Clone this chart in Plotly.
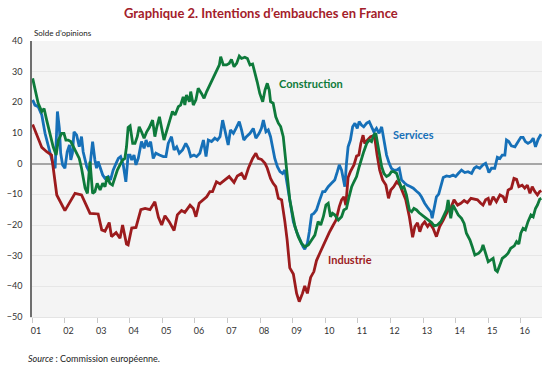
import plotly.graph_objects as go

# (decimal year, balance of opinions)
services = [
    (2001.02, 20.8), (2001.09, 19.1), (2001.19, 18.6), (2001.30, 15.9), (2001.40, 9.9),
    (2001.50, 5.5), (2001.57, 2.3), (2001.65, -0.4), (2001.71, -1.5), (2001.78, 17.0),
    (2001.84, 11.5), (2001.88, 3.4), (2001.94, -0.4), (2002.01, -1.5), (2002.08, 3.9),
    (2002.15, 6.1), (2002.19, 1.2), (2002.24, 3.4), (2002.29, 10.4), (2002.37, 9.3),
    (2002.45, 5.5), (2002.52, 8.8), (2002.57, 3.9), (2002.68, -1.0), (2002.76, -2.6),
    (2002.86, 7.2), (2002.93, 1.2), (2002.98, -1.5), (2003.03, 0.7), (2003.09, -1.0),
    (2003.17, -3.7), (2003.24, -4.8), (2003.34, -4.2), (2003.41, -5.3), (2003.49, -2.1),
    (2003.58, 0.1), (2003.65, 1.7), (2003.72, 2.3), (2003.80, -0.4), (2003.88, -5.9),
    (2003.95, 2.8), (2004.01, 2.8), (2004.06, 1.2), (2004.13, 2.8), (2004.19, -0.4),
    (2004.26, 1.7), (2004.36, 7.2), (2004.44, 5.0), (2004.50, 7.7), (2004.57, 5.5),
    (2004.64, 7.2), (2004.72, 1.7), (2004.80, 3.4), (2004.91, 2.8), (2005.03, 2.3),
    (2005.11, 2.3), (2005.18, 6.6), (2005.28, 8.8), (2005.36, 4.5), (2005.44, 5.5),
    (2005.52, 3.4), (2005.62, 4.5), (2005.72, 6.6), (2005.80, 5.0), (2005.87, 2.3),
    (2005.97, 2.8), (2006.05, 2.3), (2006.15, 3.4), (2006.26, 7.7), (2006.34, 2.3),
    (2006.41, 7.7), (2006.51, 7.2), (2006.61, 8.3), (2006.69, 7.7), (2006.77, 8.8),
    (2006.85, 14.2), (2006.92, 10.4), (2007.02, 6.1), (2007.09, 11.0), (2007.18, 9.9),
    (2007.26, 11.5), (2007.36, 13.7), (2007.43, 11.0), (2007.50, 7.7), (2007.58, 8.8),
    (2007.69, 9.9), (2007.79, 11.5), (2007.87, 8.3), (2007.97, 9.9), (2008.04, 11.5),
    (2008.10, 14.2), (2008.18, 10.4), (2008.25, 11.0), (2008.32, 8.8), (2008.38, 5.5),
    (2008.45, 1.7), (2008.53, -1.0), (2008.61, -2.6), (2008.69, -3.2), (2008.76, -2.1),
    (2008.81, -5.3), (2008.89, -11.0), (2008.96, -15.5), (2009.02, -18.9), (2009.12, -22.2),
    (2009.22, -24.9), (2009.32, -27.1), (2009.37, -27.9), (2009.45, -26.0), (2009.51, -22.2),
    (2009.58, -16.7), (2009.65, -16.2), (2009.73, -15.1), (2009.83, -11.8), (2009.92, -9.1),
    (2009.99, -9.1), (2010.09, -7.5), (2010.19, -6.4), (2010.29, -5.3), (2010.37, -2.6),
    (2010.43, -0.4), (2010.50, -2.1), (2010.55, -4.8), (2010.60, -7.5), (2010.65, 0.1),
    (2010.70, 5.5), (2010.77, 7.7), (2010.84, 12.0), (2010.91, 13.2), (2010.98, 11.5),
    (2011.04, 13.7), (2011.11, 12.6), (2011.18, 12.0), (2011.27, 13.2), (2011.35, 13.7),
    (2011.42, 12.0), (2011.49, 10.4), (2011.57, 11.5), (2011.65, 9.9), (2011.73, 12.0),
    (2011.80, 7.7), (2011.88, 2.8), (2011.96, 0.1), (2012.03, -1.5), (2012.10, -2.1),
    (2012.19, -2.1), (2012.27, -1.5), (2012.34, -5.3), (2012.44, -6.4), (2012.51, -7.0),
    (2012.62, -7.5), (2012.70, -8.0), (2012.80, -9.0), (2012.88, -9.7), (2012.95, -10.8),
    (2013.05, -12.9), (2013.16, -14.6), (2013.24, -15.7), (2013.28, -17.8), (2013.34, -14.6),
    (2013.41, -10.8), (2013.48, -9.9), (2013.55, -7.5), (2013.62, -4.5), (2013.72, -4.0),
    (2013.82, -4.2), (2013.92, -3.7), (2014.00, -4.2), (2014.08, -3.2), (2014.18, -2.1),
    (2014.28, -2.9), (2014.38, -2.6), (2014.49, -3.2), (2014.57, -1.5), (2014.64, -1.0),
    (2014.74, -1.5), (2014.84, -0.4), (2014.92, 0.1), (2014.98, -1.5), (2015.02, -2.9),
    (2015.10, -1.5), (2015.20, -1.5), (2015.28, 2.1), (2015.36, 1.7), (2015.43, 2.8),
    (2015.51, 2.8), (2015.56, 7.7), (2015.63, 7.2), (2015.71, 5.8), (2015.82, 5.5),
    (2015.92, 7.2), (2016.00, 8.6), (2016.07, 8.6), (2016.14, 7.2), (2016.22, 6.6),
    (2016.31, 7.2), (2016.38, 8.3), (2016.45, 5.5), (2016.53, 7.9), (2016.62, 9.6),
]

industrie = [
    (2001.02, 12.8), (2001.30, 5.3), (2001.45, 3.9), (2001.60, 2.8), (2001.76, -10.2),
    (2002.01, -15.3), (2002.32, -9.7), (2002.52, -10.2), (2002.78, -16.2), (2003.03, -16.4),
    (2003.14, -21.6), (2003.24, -22.0), (2003.37, -19.2), (2003.44, -23.8), (2003.58, -22.5),
    (2003.70, -24.3), (2003.78, -20.0), (2003.90, -26.2), (2003.95, -26.5), (2004.06, -21.0),
    (2004.19, -20.8), (2004.34, -15.0), (2004.47, -14.6), (2004.62, -15.0), (2004.77, -12.4),
    (2004.88, -17.5), (2004.98, -20.0), (2005.08, -17.0), (2005.21, -18.9), (2005.36, -21.8),
    (2005.46, -16.7), (2005.59, -15.3), (2005.69, -15.9), (2005.85, -13.5), (2005.95, -14.6),
    (2006.03, -17.3), (2006.13, -12.9), (2006.26, -11.6), (2006.36, -10.8), (2006.46, -9.1),
    (2006.54, -9.1), (2006.66, -5.9), (2006.77, -6.6), (2006.92, -5.3), (2007.05, -4.2),
    (2007.20, -6.1), (2007.30, -4.0), (2007.43, -3.2), (2007.53, -5.1), (2007.64, -1.5),
    (2007.77, 1.7), (2007.87, 3.4), (2007.94, 1.7), (2008.04, 1.4), (2008.15, 0.1),
    (2008.22, -1.5), (2008.32, -4.8), (2008.40, -6.4), (2008.48, -7.5), (2008.56, -11.3),
    (2008.66, -11.8), (2008.76, -18.9), (2008.83, -24.9), (2008.91, -34.0), (2009.02, -36.0),
    (2009.12, -42.3), (2009.20, -45.0), (2009.30, -42.3), (2009.37, -39.9), (2009.45, -42.3),
    (2009.55, -37.1), (2009.65, -35.2), (2009.73, -31.6), (2009.83, -29.2), (2009.94, -26.5),
    (2010.04, -24.3), (2010.12, -22.5), (2010.22, -20.5), (2010.33, -18.4), (2010.43, -14.0),
    (2010.50, -11.8), (2010.57, -10.8), (2010.63, -13.5), (2010.70, -4.5), (2010.77, -2.6),
    (2010.88, -0.4), (2010.96, 2.5), (2011.03, 2.8), (2011.09, 6.6), (2011.16, 9.3),
    (2011.21, 6.6), (2011.29, 7.7), (2011.39, 8.8), (2011.45, 9.0), (2011.52, 8.3),
    (2011.59, 2.8), (2011.67, -2.1), (2011.76, -5.3), (2011.86, -7.0), (2011.94, -11.3),
    (2012.01, -8.6), (2012.10, -7.5), (2012.19, -5.9), (2012.29, -7.0), (2012.37, -9.1),
    (2012.47, -11.8), (2012.58, -17.3), (2012.68, -24.0), (2012.75, -20.5), (2012.83, -19.3),
    (2012.90, -22.2), (2012.97, -20.0), (2013.05, -19.0), (2013.14, -20.5), (2013.21, -19.5),
    (2013.31, -21.1), (2013.41, -23.8), (2013.51, -20.5), (2013.62, -18.4), (2013.69, -16.7),
    (2013.77, -15.1), (2013.87, -14.0), (2013.95, -11.8), (2014.06, -13.5), (2014.16, -12.9),
    (2014.26, -12.0), (2014.36, -12.7), (2014.47, -11.3), (2014.57, -11.6), (2014.67, -11.8),
    (2014.77, -12.9), (2014.84, -13.5), (2014.92, -11.8), (2015.00, -11.3), (2015.05, -13.5),
    (2015.15, -10.8), (2015.25, -12.4), (2015.36, -10.2), (2015.46, -10.8), (2015.53, -12.7),
    (2015.61, -8.6), (2015.71, -8.0), (2015.79, -4.8), (2015.87, -5.1), (2015.94, -7.5),
    (2016.04, -7.0), (2016.12, -8.0), (2016.20, -7.0), (2016.28, -9.7), (2016.35, -7.5),
    (2016.43, -9.1), (2016.51, -10.2), (2016.58, -9.1), (2016.63, -8.8),
]

construction = [
    (2001.02, 27.8), (2001.09, 24.0), (2001.19, 19.7), (2001.30, 17.0), (2001.37, 18.0),
    (2001.45, 14.2), (2001.55, 9.9), (2001.65, 5.5), (2001.74, 2.8), (2001.81, 7.7),
    (2001.91, 9.9), (2001.98, 9.9), (2002.04, 7.7), (2002.11, 7.7), (2002.19, 7.2),
    (2002.27, 5.5), (2002.37, 3.4), (2002.45, 1.7), (2002.52, -1.5), (2002.60, -6.4),
    (2002.63, -8.0), (2002.70, -9.7), (2002.78, 0.7), (2002.86, -9.7), (2002.93, -9.1),
    (2003.00, -6.4), (2003.09, -8.6), (2003.17, -6.4), (2003.24, -7.5), (2003.31, -4.2),
    (2003.39, -6.4), (2003.47, -7.0), (2003.55, -4.2), (2003.62, -2.1), (2003.70, -0.4),
    (2003.78, 1.2), (2003.85, 1.7), (2003.90, 5.5), (2003.95, 11.8), (2004.01, 12.3),
    (2004.09, 6.6), (2004.16, 6.6), (2004.23, 8.8), (2004.29, 12.0), (2004.36, 10.4),
    (2004.44, 8.3), (2004.52, 10.4), (2004.60, 11.8), (2004.70, 14.2), (2004.77, 8.8),
    (2004.82, 11.5), (2004.91, 15.3), (2005.05, 7.7), (2005.13, 11.0), (2005.23, 14.2),
    (2005.31, 17.0), (2005.39, 15.9), (2005.49, 18.6), (2005.56, 19.1), (2005.64, 21.8),
    (2005.69, 19.1), (2005.74, 22.4), (2005.83, 20.2), (2005.87, 23.5), (2005.95, 19.1),
    (2006.03, 20.8), (2006.10, 24.6), (2006.20, 22.9), (2006.28, 21.3), (2006.36, 23.5),
    (2006.46, 25.7), (2006.56, 27.8), (2006.66, 30.5), (2006.75, 32.2), (2006.79, 34.9),
    (2006.87, 32.2), (2006.97, 32.2), (2007.05, 32.7), (2007.12, 34.0), (2007.20, 31.6),
    (2007.28, 32.7), (2007.36, 35.1), (2007.43, 34.3), (2007.53, 34.7), (2007.61, 34.3),
    (2007.69, 32.2), (2007.77, 32.5), (2007.84, 30.0), (2007.91, 26.7), (2007.99, 22.9),
    (2008.08, 20.2), (2008.15, 24.0), (2008.22, 26.2), (2008.28, 24.0), (2008.32, 20.2),
    (2008.40, 19.7), (2008.48, 15.3), (2008.56, 13.2), (2008.63, 12.1), (2008.71, 8.8),
    (2008.79, 1.2), (2008.86, -7.5), (2008.91, -11.8), (2008.99, -16.2), (2009.07, -20.5),
    (2009.17, -23.8), (2009.27, -26.0), (2009.37, -27.1), (2009.48, -26.5), (2009.58, -24.9),
    (2009.68, -23.3), (2009.78, -18.9), (2009.86, -20.0), (2009.94, -17.3), (2010.02, -13.5),
    (2010.09, -12.9), (2010.16, -17.3), (2010.22, -16.2), (2010.29, -16.7), (2010.40, -18.4),
    (2010.50, -17.3), (2010.57, -15.1), (2010.65, -14.6), (2010.73, -10.8), (2010.81, -7.5),
    (2010.88, -5.9), (2010.96, -4.2), (2011.04, -1.0), (2011.11, 1.7), (2011.18, 3.9),
    (2011.27, 6.6), (2011.35, 7.7), (2011.42, 7.2), (2011.49, 9.3), (2011.55, 9.9),
    (2011.59, 7.7), (2011.66, 3.9), (2011.73, -1.0), (2011.80, -3.2), (2011.88, -4.2),
    (2011.96, -3.7), (2012.03, -2.6), (2012.10, -2.6), (2012.19, -3.2), (2012.27, -5.9),
    (2012.34, -8.0), (2012.41, -7.5), (2012.49, -10.2), (2012.58, -15.1), (2012.65, -15.7),
    (2012.72, -14.6), (2012.80, -15.1), (2012.88, -16.0), (2012.97, -16.7), (2013.05, -17.3),
    (2013.16, -18.4), (2013.26, -19.2), (2013.34, -20.3), (2013.44, -20.0), (2013.55, -18.9),
    (2013.65, -16.7), (2013.72, -15.1), (2013.77, -11.8), (2013.85, -17.8), (2013.92, -13.5),
    (2014.00, -15.1), (2014.08, -16.7), (2014.18, -17.8), (2014.26, -19.5), (2014.33, -22.7),
    (2014.44, -24.9), (2014.51, -27.1), (2014.59, -29.8), (2014.71, -29.2), (2014.79, -28.2),
    (2014.84, -26.5), (2014.92, -29.2), (2015.00, -32.0), (2015.08, -31.4), (2015.15, -30.9),
    (2015.22, -34.7), (2015.28, -35.2), (2015.36, -33.0), (2015.43, -30.9), (2015.53, -30.1),
    (2015.61, -29.2), (2015.69, -27.6), (2015.80, -26.8), (2015.87, -25.4), (2015.94, -26.2),
    (2016.00, -22.7), (2016.07, -21.1), (2016.14, -21.6), (2016.22, -18.9), (2016.31, -16.7),
    (2016.38, -17.3), (2016.45, -14.6), (2016.51, -13.5), (2016.58, -11.6), (2016.63, -11.3),
]

years = list(range(2001, 2017))
year_labels = ["%02d" % (y - 2000) for y in years]
y_ticks = list(range(-50, 41, 10))

GREEN = "#0e7a3b"
BLUE = "#1670b8"
RED = "#9c1b1d"
FONT = "Lato"

fig = go.Figure()
for name, data, color in [("Services", services, BLUE),
                          ("Industrie", industrie, RED),
                          ("Construction", construction, GREEN)]:
    fig.add_trace(go.Scatter(
        x=[p[0] for p in data], y=[p[1] for p in data], mode="lines", name=name,
        line=dict(color=color, width=2.8), hoverinfo="skip"))

fig.update_layout(
    width=550, height=368,
    margin=dict(l=32, r=8, t=41, b=51),
    paper_bgcolor="white", plot_bgcolor="#f4f4f4",
    showlegend=False,
    font=dict(family=FONT, size=9, color="#333333"),
)
fig.update_xaxes(
    range=[2001, 2016.65], tickvals=years, ticktext=year_labels,
    ticks="outside", ticklen=5, tickcolor="#c8c8c8", tickwidth=1,
    ticklabelshift=4, showgrid=False, zeroline=False,
    showline=True, linecolor="#e4e4e4", linewidth=1,
    tickfont=dict(family=FONT, size=9, color="#333333"),
)
fig.update_yaxes(
    range=[-50, 40], tickvals=y_ticks, ticks="",
    ticklabelstandoff=6,
    showgrid=True, gridcolor="#e6e6e6", gridwidth=1,
    zeroline=True, zerolinecolor="#a6a6a6", zerolinewidth=2,
    showline=True, linecolor="#6e6e6e", linewidth=1.5,
    tickfont=dict(family=FONT, size=9, color="#333333"),
)

annots = [
    dict(text="<b>Graphique 2. Intentions d\u2019embauches en France</b>", xref="paper", yref="paper",
         x=0.449, y=1.103, xanchor="center", yanchor="middle",
         font=dict(family=FONT, size=13, color="#a3202a")),
    dict(text="Solde d\u2019opinions", xref="paper", yref="paper", x=0.0, y=1.029,
         xanchor="left", yanchor="middle", font=dict(family=FONT, size=8, color="#222222")),
    dict(text="<i>Source</i> : Commission européenne.", xref="paper", yref="paper",
         x=-0.012, y=-0.152, xanchor="left", yanchor="middle",
         font=dict(family=FONT, size=9, color="#222222")),
    dict(text="<b>Construction</b>", x=2009.55, y=26.3, xanchor="center", yanchor="middle",
         font=dict(family=FONT, size=11, color=GREEN)),
    dict(text="<b>Services</b>", x=2012.71, y=9.4, xanchor="center", yanchor="middle",
         font=dict(family=FONT, size=11, color=BLUE)),
    dict(text="<b>Industrie</b>", x=2010.75, y=-31.2, xanchor="center", yanchor="middle",
         font=dict(family=FONT, size=11, color=RED)),
]
for a in annots:
    a.setdefault("showarrow", False)
    fig.add_annotation(**a)

fig.write_html("out.html", config={"displayModeBar": False})

# remove the browser's default body margin so the figure sits at the page origin
with open("out.html", "r", encoding="utf-8") as f:
    html = f.read()
html = html.replace("<head>", "<head><style>html,body{margin:0;padding:0;overflow:hidden;}</style>", 1)
with open("out.html", "w", encoding="utf-8") as f:
    f.write(html)
